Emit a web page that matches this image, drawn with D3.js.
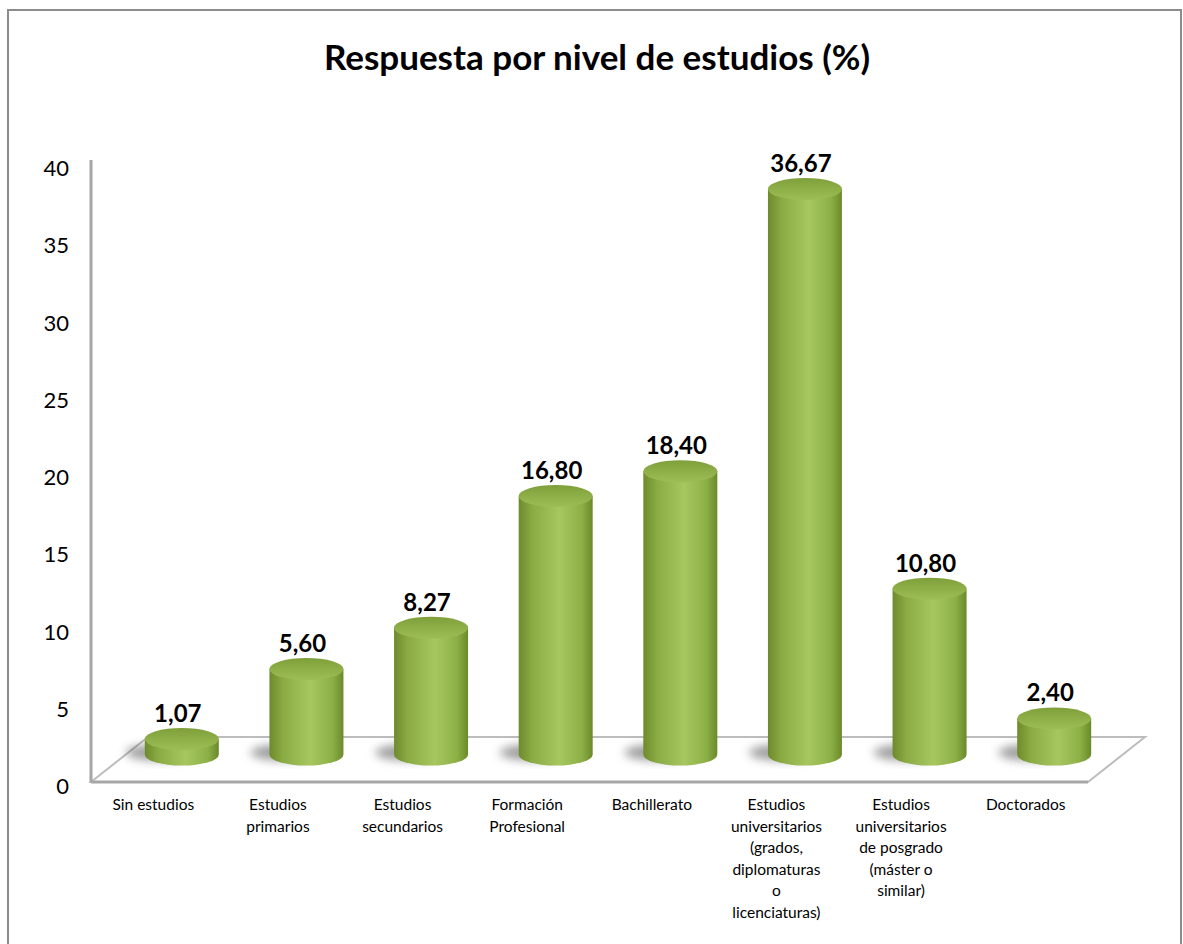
<!DOCTYPE html>
<html>
<head>
<meta charset="utf-8">
<script src="https://cdn.jsdelivr.net/npm/d3@7"></script>
<style>
  body { margin: 0; background: #fff; }
  svg { display: block; font-family: Lato, "Open Sans", sans-serif; }
</style>
</head>
<body>
<div id="chart"></div>
<script>
// Datos del gráfico
const categorias = [
  ["Sin estudios"],
  ["Estudios", "primarios"],
  ["Estudios", "secundarios"],
  ["Formación", "Profesional"],
  ["Bachillerato"],
  ["Estudios", "universitarios", "(grados,", "diplomaturas", "o", "licenciaturas)"],
  ["Estudios", "universitarios", "de posgrado", "(máster o", "similar)"],
  ["Doctorados"]
];
const valores = [1.07, 5.60, 8.27, 16.80, 18.40, 36.67, 10.80, 2.40];
const ticksY = [0, 5, 10, 15, 20, 25, 30, 35, 40];
const titulo = "Respuesta por nivel de estudios (%)";

const W = 1183, H = 944;

// plano frontal del gráfico 3D
const x0 = 91, x1 = 1088;
const yBase = 782, yTopAxis = 164;
// profundidad del suelo
const depth = { dx: 57, dy: -45 };
const mid = { dx: depth.dx / 2, dy: depth.dy / 2 };

const es = d3.formatLocale({ decimal: ",", thousands: ".", grouping: [3], currency: ["", "€"] });
const fmt = es.format(".2f");

const svg = d3.select("#chart")
  .append("svg")
  .attr("width", W)
  .attr("height", H);

// borde exterior
svg.append("rect")
  .attr("x", 8).attr("y", 10)
  .attr("width", 1173).attr("height", 1000)
  .attr("fill", "none")
  .attr("stroke", "#8c8c8c")
  .attr("stroke-width", 2);

// título
svg.append("text")
  .attr("x", 597).attr("y", 70)
  .attr("text-anchor", "middle")
  .attr("font-size", 35)
  .attr("font-weight", "bold")
  .text(titulo);

const x = d3.scaleBand()
  .domain(d3.range(categorias.length))
  .range([x0, x1]);

const y = d3.scaleLinear()
  .domain([0, 40])
  .range([yBase, yTopAxis]);

const defs = svg.append("defs");

const gBody = defs.append("linearGradient").attr("id", "cuerpo")
  .attr("x1", "0%").attr("x2", "100%").attr("y1", "0%").attr("y2", "0%");
gBody.append("stop").attr("offset", "0%").attr("stop-color", "#6d8b2c");
gBody.append("stop").attr("offset", "18%").attr("stop-color", "#8aaa43");
gBody.append("stop").attr("offset", "55%").attr("stop-color", "#a6c760");
gBody.append("stop").attr("offset", "85%").attr("stop-color", "#8db046");
gBody.append("stop").attr("offset", "100%").attr("stop-color", "#6a8a2a");

const gTop = defs.append("linearGradient").attr("id", "tapa")
  .attr("x1", "0%").attr("x2", "0%").attr("y1", "0%").attr("y2", "100%");
gTop.append("stop").attr("offset", "0%").attr("stop-color", "#7f9f3a");
gTop.append("stop").attr("offset", "100%").attr("stop-color", "#9dbd56");

defs.append("filter").attr("id", "blur")
  .attr("x", "-50%").attr("y", "-50%").attr("width", "200%").attr("height", "200%")
  .append("feGaussianBlur").attr("stdDeviation", 5);

// suelo (paralelogramo)
const floor = [
  [x0, yBase],
  [x0 + depth.dx, yBase + depth.dy],
  [x1 + depth.dx, yBase + depth.dy],
  [x1, yBase]
];
svg.append("path")
  .attr("d", d3.line()(floor) + "Z")
  .attr("fill", "#fff")
  .attr("stroke", "#bdbdbd")
  .attr("stroke-width", 2);
svg.append("line")
  .attr("x1", x0).attr("x2", x1)
  .attr("y1", yBase).attr("y2", yBase)
  .attr("stroke", "#a6a6a6")
  .attr("stroke-width", 3);

// eje vertical
svg.append("line")
  .attr("x1", x0).attr("x2", x0)
  .attr("y1", y(40) - 4).attr("y2", yBase)
  .attr("stroke", "#a6a6a6")
  .attr("stroke-width", 3);

svg.append("g")
  .selectAll("text")
  .data(ticksY)
  .join("text")
  .attr("x", 69)
  .attr("y", d => y(d) + 12)
  .attr("text-anchor", "end")
  .attr("font-size", 22)
  .text(d => d);

// cilindros
const r = 37, ry = 11;
const bars = svg.append("g")
  .selectAll("g")
  .data(valores)
  .join("g");

const cx = (d, i) => x(i) + x.bandwidth() / 2 + mid.dx;
const yb = yBase + mid.dy - 5;
const yt = d => y(d) + mid.dy - 4;

// sombras
bars.append("ellipse")
  .attr("cx", (d, i) => cx(d, i) - 22)
  .attr("cy", yb - 2)
  .attr("rx", 34).attr("ry", 8)
  .attr("fill", "#4d4d4d")
  .attr("opacity", 0.55)
  .attr("filter", "url(#blur)");

bars.append("path")
  .attr("d", (d, i) => {
    const c = cx(d, i);
    return `M${c - r},${yt(d)} L${c - r},${yb} A${r},${ry} 0 0 0 ${c + r},${yb} L${c + r},${yt(d)} Z`;
  })
  .attr("fill", "url(#cuerpo)");

bars.append("ellipse")
  .attr("cx", (d, i) => cx(d, i))
  .attr("cy", d => yt(d))
  .attr("rx", r).attr("ry", ry)
  .attr("fill", "url(#tapa)");

// etiquetas de valor
bars.append("text")
  .attr("x", (d, i) => cx(d, i) - 4)
  .attr("y", d => yt(d) - 17)
  .attr("text-anchor", "middle")
  .attr("font-size", 24)
  .attr("font-weight", "bold")
  .text(d => fmt(d));

// etiquetas de categoría
svg.append("g")
  .selectAll("text")
  .data(categorias)
  .join("text")
  .attr("text-anchor", "middle")
  .attr("font-size", 15.5)
  .each(function (lines, i) {
    d3.select(this).selectAll("tspan")
      .data(lines)
      .join("tspan")
      .attr("x", x(i) + x.bandwidth() / 2)
      .attr("y", (l, j) => 810 + j * 21.6)
      .text(l => l);
  });
</script>
</body>
</html>
